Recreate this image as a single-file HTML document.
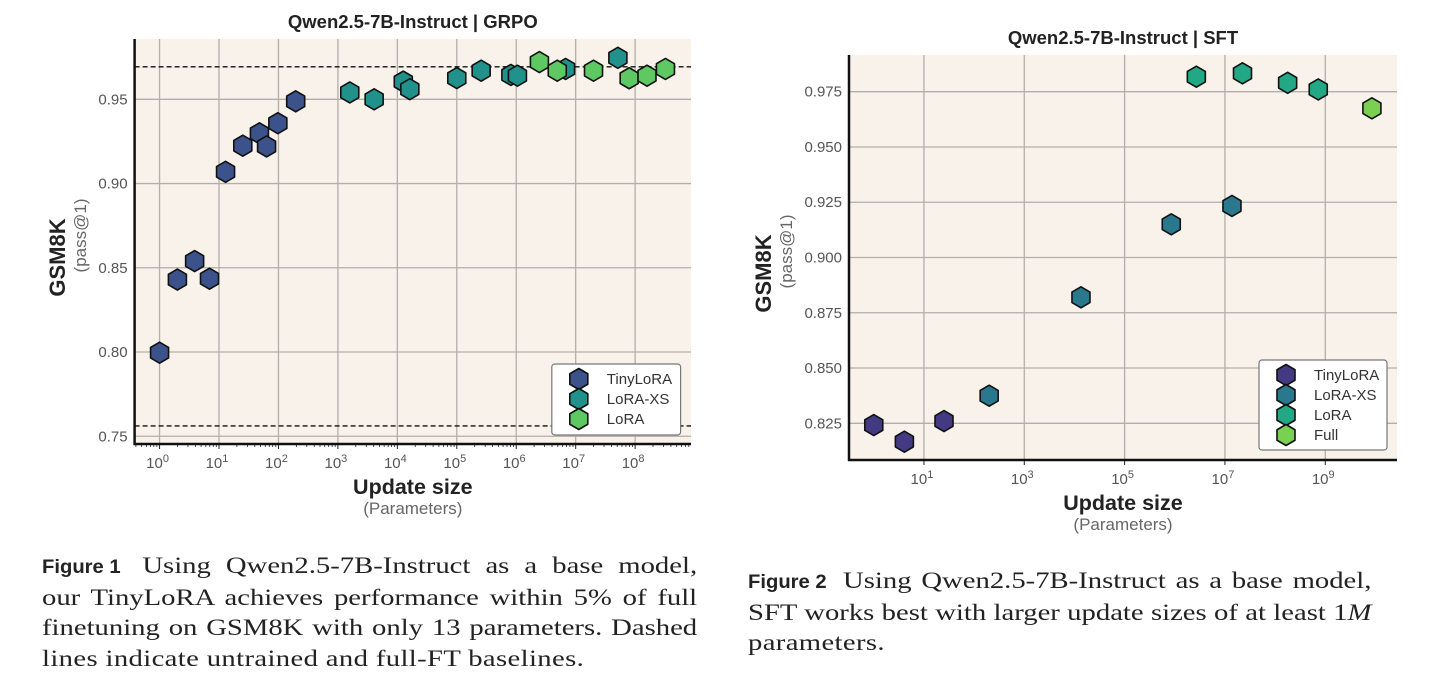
<!DOCTYPE html>
<html><head><meta charset="utf-8">
<style>
body{margin:0;background:#fff;width:1456px;height:693px;overflow:hidden;position:relative;font-family:"Liberation Sans",sans-serif}
svg{position:absolute;left:0;top:0}
.cap{position:absolute;font-family:"Liberation Serif",serif;font-size:23.5px;line-height:30.6px;color:#222;transform:scaleX(1.22);transform-origin:0 0}
.cap .ln{text-align:justify;text-align-last:justify;white-space:nowrap}
.cap .ln.last{text-align-last:left;letter-spacing:0.3px}
.cap b{font-family:"Liberation Sans",sans-serif;font-size:19.5px;font-weight:bold;display:inline-block;transform:scaleX(0.85);transform-origin:0 0;margin-right:-6px}
</style></head>
<body>
<svg id="chart" width="1456" height="693" xmlns="http://www.w3.org/2000/svg"></svg>
<div class="cap" style="left:42px;top:551px;width:537px">
<div class="ln"><b>Figure 1</b> Using Qwen2.5-7B-Instruct as a base model,</div>
<div class="ln">our TinyLoRA achieves performance within 5% of full</div>
<div class="ln">finetuning on GSM8K with only 13 parameters. Dashed</div>
<div class="ln last">lines indicate untrained and full-FT baselines.</div></div>
<div class="cap" style="left:748px;top:566px;width:511px">
<div class="ln"><b>Figure 2</b> Using Qwen2.5-7B-Instruct as a base model,</div>
<div class="ln">SFT works best with larger update sizes of at least 1<i>M</i></div>
<div class="ln last">parameters.</div></div>
<script>
// ---- Chart 1 (GRPO) data: log10(params), accuracy ----
const g_tiny_x=[0,0.30,0.59,0.84,1.11,1.40,1.68,1.80,1.99,2.29];
const g_tiny_y=[0.7996,0.843,0.854,0.8435,0.907,0.9225,0.9298,0.922,0.9358,0.9488];
const g_xs_x=[3.20,3.61,4.10,4.21,5.00,5.41,5.91,6.02,6.83,7.71];
const g_xs_y=[0.9541,0.950,0.9605,0.956,0.9626,0.967,0.9645,0.964,0.968,0.9746];
const g_lora_x=[6.39,6.69,7.30,7.90,8.20,8.51];
const g_lora_y=[0.9721,0.967,0.967,0.9625,0.964,0.968];
const g_baselines=[0.9693,0.7561];
const g_yticks=[0.75,0.80,0.85,0.90,0.95];
const g_xticks=[0,1,2,3,4,5,6,7,8];
// ---- Chart 2 (SFT) data ----
const s_tiny_x=[0,0.61,1.40];
const s_tiny_y=[0.8242,0.8167,0.826];
const s_xs_x=[2.30,4.13,5.93,7.14];
const s_xs_y=[0.8375,0.882,0.915,0.9233];
const s_lora_x=[6.43,7.35,8.25,8.86];
const s_lora_y=[0.9818,0.9833,0.979,0.976];
const s_full_x=[9.93];
const s_full_y=[0.9675];
const s_yticks=[0.825,0.850,0.875,0.900,0.925,0.950,0.975];
const s_xticks=[1,3,5,7,9];

const NS="http://www.w3.org/2000/svg";
const svg=document.getElementById('chart');
function el(t,a,p){const e=document.createElementNS(NS,t);for(const k in a)e.setAttribute(k,a[k]);(p||svg).appendChild(e);return e;}
function txt(s,a,p){const e=el('text',a,p);e.textContent=s;return e;}
function hex(cx,cy,fill,p){const r=10.5,w=9;
 const pts=[[cx,cy-r],[cx+w,cy-r/2],[cx+w,cy+r/2],[cx,cy+r],[cx-w,cy+r/2],[cx-w,cy-r/2]].map(q=>q.join(',')).join(' ');
 return el('polygon',{points:pts,fill:fill,stroke:'#111','stroke-width':1.6,'stroke-linejoin':'round'},p);}
function sup(g,x,y,e){const t=el('text',{x:x,y:y,'text-anchor':'middle','font-size':15,fill:'#555'},g);
 const a=document.createElementNS(NS,'tspan');a.textContent='10';t.appendChild(a);
 const b=document.createElementNS(NS,'tspan');b.setAttribute('dy',-6);b.setAttribute('font-size',11);b.textContent=e;t.appendChild(b);}

function chart(cfg){
 const g=el('g',{});
 
 
 const X=v=>cfg.L+(v-cfg.x0)/(cfg.x1-cfg.x0)*(cfg.R-cfg.L);
 const Y=v=>cfg.B-(v-cfg.y0)/(cfg.y1-cfg.y0)*(cfg.B-cfg.T);
 const bg=el('rect',{x:cfg.L,y:cfg.T,width:cfg.R-cfg.L,height:cfg.B-cfg.T,fill:'#f8f2ea'},g);
 
 cfg.xt.forEach(v=>{el('line',{x1:X(v),x2:X(v),y1:cfg.T,y2:cfg.B,stroke:'#b3aea8','stroke-width':1.3},g);});
 cfg.yt.forEach(v=>{el('line',{x1:cfg.L,x2:cfg.R,y1:Y(v),y2:Y(v),stroke:'#b3aea8','stroke-width':1.3},g);
  const t=txt(cfg.fmt(v),{x:cfg.L-7,y:Y(v)+5,'text-anchor':'end','font-size':15,fill:'#555'},g);
  });
 (cfg.base||[]).forEach(v=>{const l=el('line',{x1:cfg.L,x2:cfg.R,y1:Y(v),y2:Y(v),stroke:'#111','stroke-width':1.4,'stroke-dasharray':'5,3'},g);
  });
 if(cfg.minor){for(let d=Math.floor(cfg.x0);d<cfg.x1;d++)for(let m=2;m<=9;m++){const v=d+Math.log10(m);if(v>cfg.x0&&v<cfg.x1)el('line',{x1:X(v),x2:X(v),y1:cfg.B,y2:cfg.B+3,stroke:'#222','stroke-width':0.8},g);}}
 cfg.xt.forEach(v=>{el('line',{x1:X(v),x2:X(v),y1:cfg.B,y2:cfg.B+5,stroke:'#222','stroke-width':1},g);sup(g,X(v)-2,cfg.B+24,String(v));});
 el('line',{x1:cfg.L,x2:cfg.L,y1:cfg.T,y2:cfg.B+1,stroke:'#111','stroke-width':2.5},g);
 el('line',{x1:cfg.L-1,x2:cfg.R,y1:cfg.B,y2:cfg.B,stroke:'#111','stroke-width':2.5},g);
 cfg.series.forEach(s=>{s.x.forEach((xv,i)=>{const h=hex(X(xv),Y(s.y[i]),s.c,g);
  });});
 const cx=(cfg.L+cfg.R)/2;
 const ti=txt(cfg.title,{x:cx,y:cfg.T-11,'text-anchor':'middle','font-size':18.5,'font-weight':'bold',fill:'#222','xml:space':'preserve'},g);
 
 const xl=txt('Update size',{x:cx,y:cfg.B+50,'text-anchor':'middle','font-size':21.5,'font-weight':'bold',fill:'#222'},g);
 
 txt('(Parameters)',{x:cx,y:cfg.B+70,'text-anchor':'middle','font-size':17,fill:'#666'},g);
 const my=(cfg.T+cfg.B)/2;
 const yl=txt('GSM8K',{x:0,y:0,'text-anchor':'middle','font-size':22,'font-weight':'bold',fill:'#222',transform:`translate(${cfg.yl},${my+16}) rotate(-90)`},g);
 
 txt('(pass@1)',{x:0,y:0,'text-anchor':'middle','font-size':17,fill:'#666',transform:`translate(${cfg.yl+21},${my-6}) rotate(-90)`},g);
 const lg=el('g',{},g);
 el('rect',{x:cfg.lg[0],y:cfg.lg[1],width:cfg.lg[2],height:cfg.lg[3],rx:3,fill:'#fff',stroke:'#777','stroke-width':1.2},lg);
 cfg.series.forEach((s,i)=>{const yy=cfg.lg[1]+15+i*20;hex(cfg.lg[0]+27,yy,s.c,lg);
  const t=txt(s.label,{x:cfg.lg[0]+55,y:yy+5,'font-size':15,fill:'#333'},lg);
  });
}
chart({name:'grpo-chart',L:134.6,R:691,T:39,B:444,x0:-0.42,x1:8.94,y0:0.7454,y1:0.9858,
 xt:g_xticks,yt:g_yticks,fmt:v=>v.toFixed(2),base:g_baselines,minor:true,yl:65,
 title:'Qwen2.5-7B-Instruct  |  GRPO',lg:[551.8,364,128.8,71],
 series:[{key:'tinylora',label:'TinyLoRA',c:'#3b528b',x:g_tiny_x,y:g_tiny_y},
  {key:'lora-xs',label:'LoRA-XS',c:'#21918c',x:g_xs_x,y:g_xs_y},
  {key:'lora',label:'LoRA',c:'#5ec962',x:g_lora_x,y:g_lora_y}]});
chart({name:'sft-chart',L:849,R:1397,T:55,B:460,x0:-0.494,x1:10.43,y0:0.8084,y1:0.9916,
 xt:s_xticks,yt:s_yticks,fmt:v=>v.toFixed(3),base:[],minor:false,yl:771,
 title:'Qwen2.5-7B-Instruct  |  SFT',lg:[1259,360,128,90],
 series:[{key:'tinylora',label:'TinyLoRA',c:'#443983',x:s_tiny_x,y:s_tiny_y},
  {key:'lora-xs',label:'LoRA-XS',c:'#2a788e',x:s_xs_x,y:s_xs_y},
  {key:'lora',label:'LoRA',c:'#22a884',x:s_lora_x,y:s_lora_y},
  {key:'full',label:'Full',c:'#7ad151',x:s_full_x,y:s_full_y}]});
</script>
</body></html>
